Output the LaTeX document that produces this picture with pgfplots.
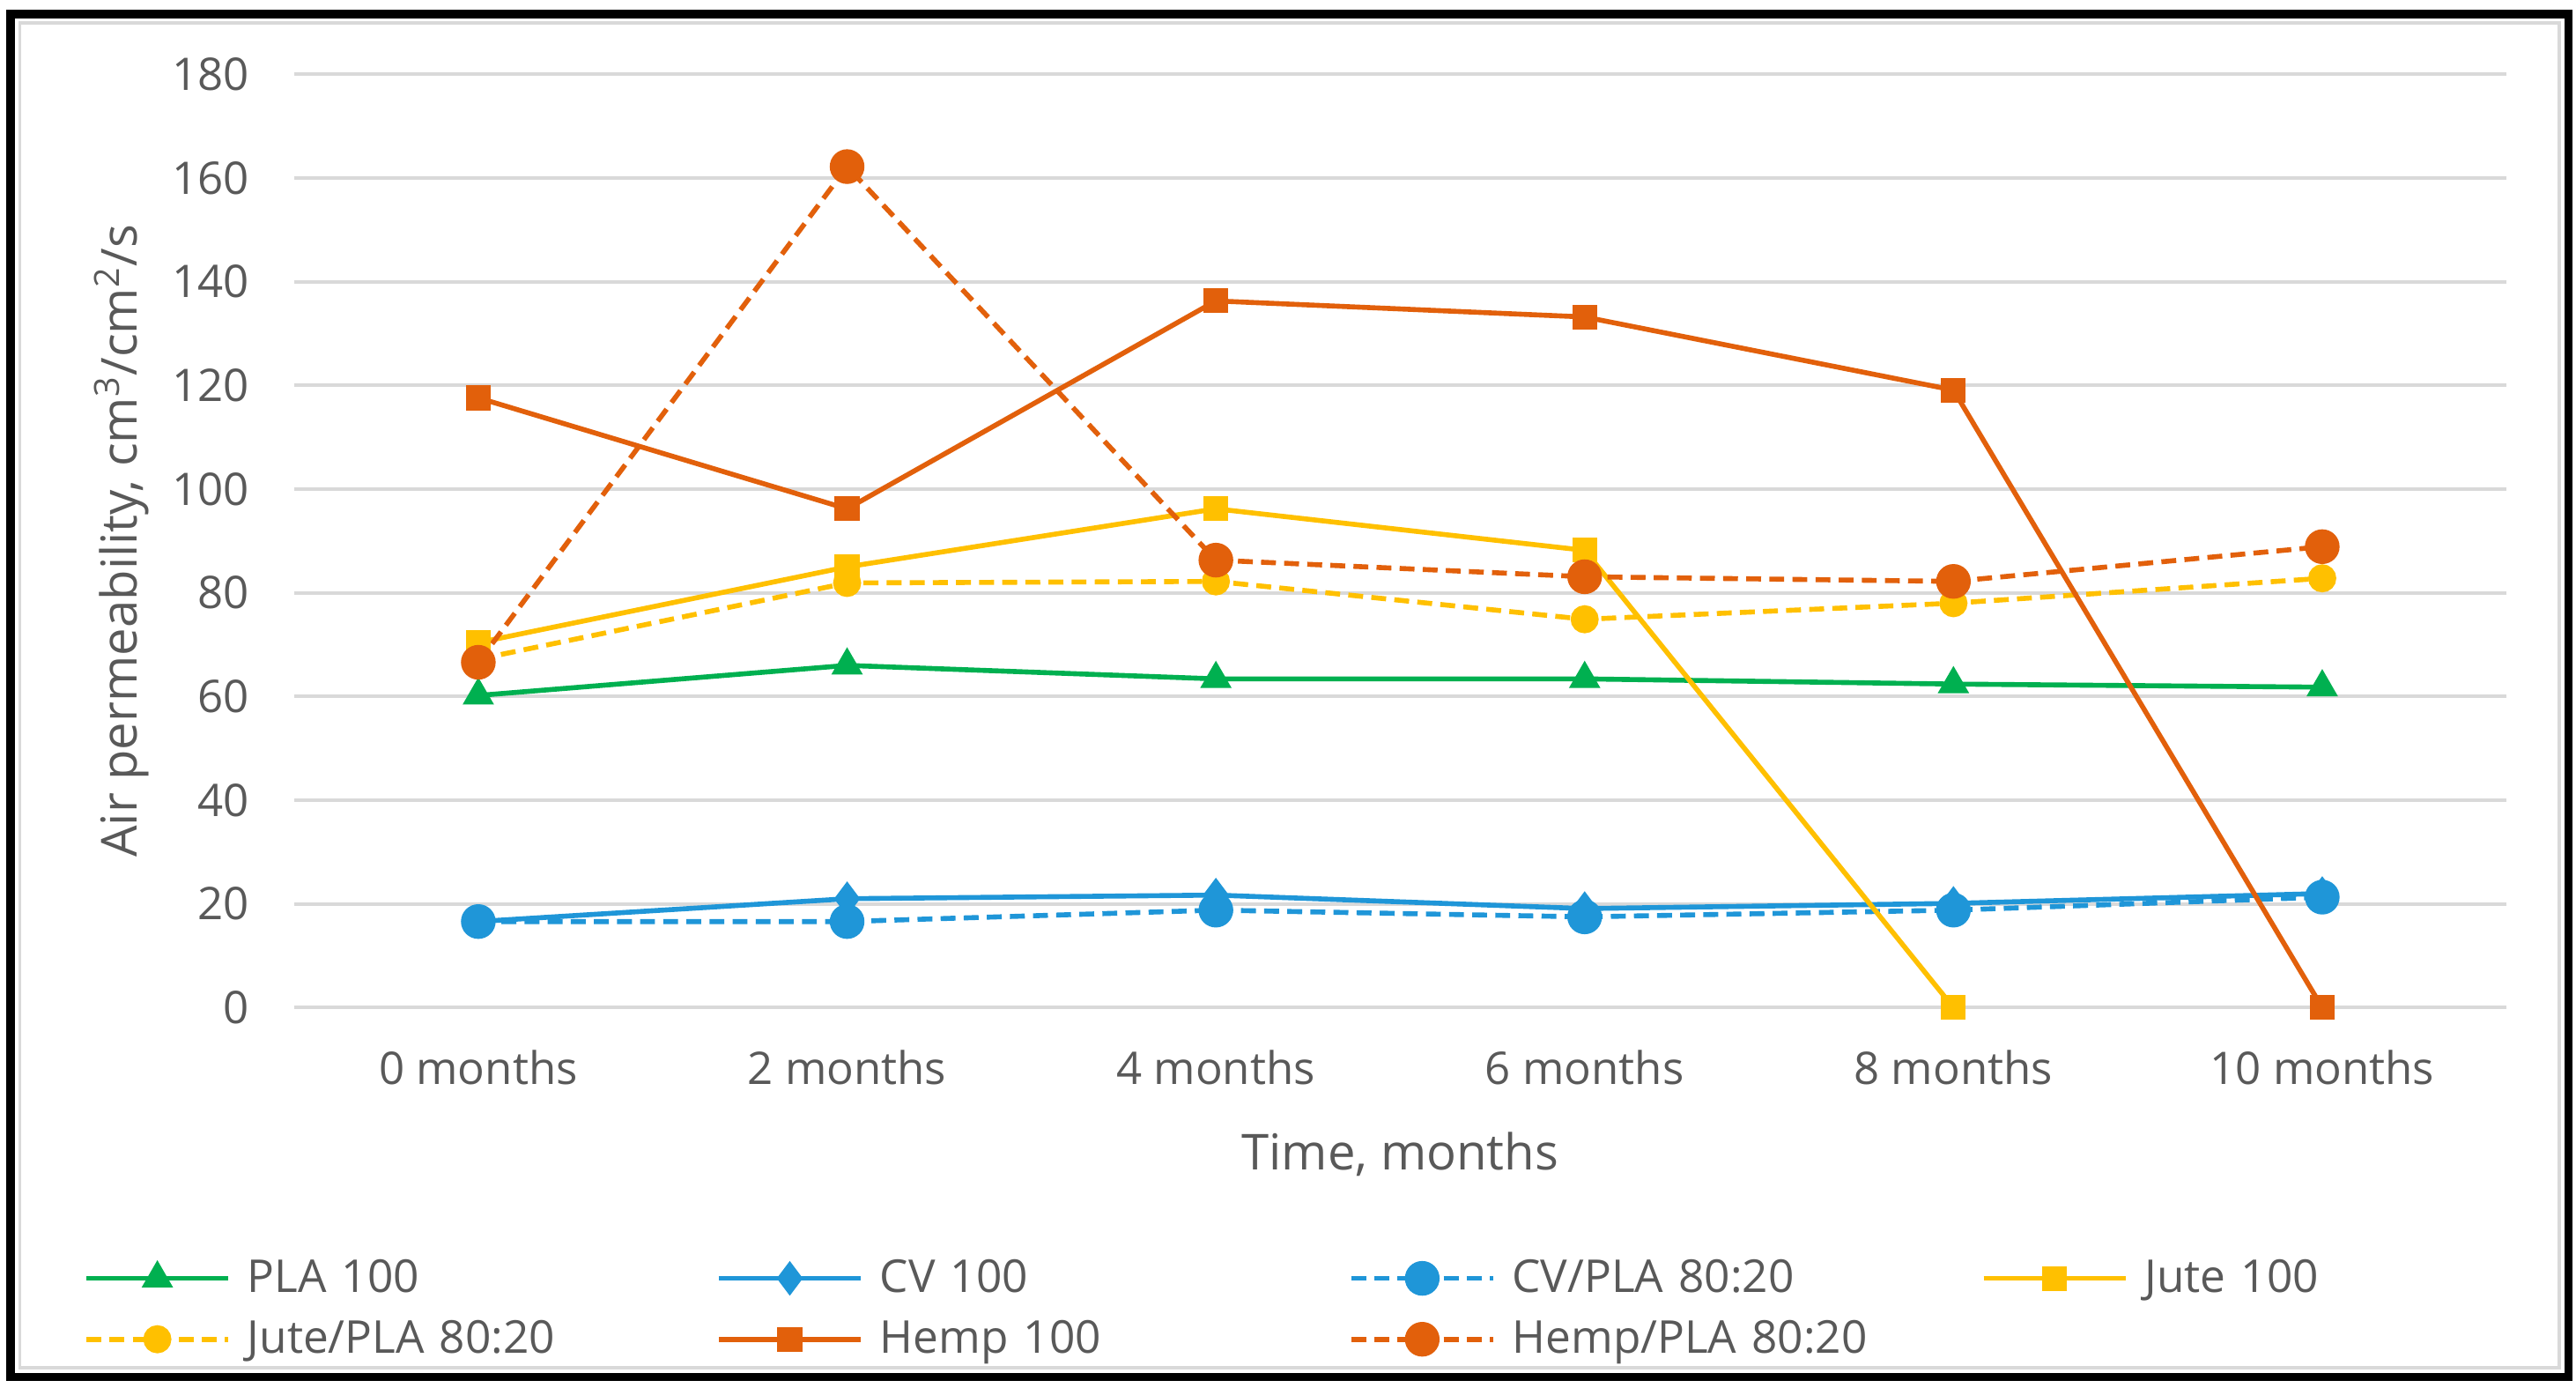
\documentclass[border=0pt]{standalone}
\usepackage{fontspec}
\setmainfont{Open Sans}
\usepackage{pgfplots}
\pgfplotsset{compat=1.18}

\definecolor{cgreen}{HTML}{00B050}
\definecolor{cblue}{HTML}{1F96D8}
\definecolor{cyellow}{HTML}{FFC000}
\definecolor{corange}{HTML}{E2600B}
\definecolor{gridgray}{HTML}{D9D9D9}
\definecolor{txt}{HTML}{595959}

\begin{document}
\begin{tikzpicture}
\path[use as bounding box, fill=white] (-89pt,-115pt) rectangle (691pt,305pt);
\draw[black, line width=2.5pt] (-85.75pt,-111.75pt) rectangle (688.75pt,300.75pt);
\draw[gridgray, line width=1pt] (-83pt,-109pt) rectangle (686pt,298pt);

\begin{axis}[
  width=670pt, height=282.5pt,
  scale only axis,
  xmin=-0.5, xmax=5.5,
  ymin=0, ymax=180,
  xtick={0,1,2,3,4,5},
  xticklabels={0 months,2 months,4 months,6 months,8 months,10 months},
  ytick={0,20,40,60,80,100,120,140,160,180},
  /pgf/number format/assume math mode=true,
  axis line style={draw=none},
  major tick length=0pt,
  ymajorgrids, xmajorgrids=false,
  grid style={draw=gridgray, line width=1pt},
  ticklabel style={font=\fontsize{13.6}{16}\selectfont, text=txt},
  yticklabel style={xshift=-10pt},
  xticklabel style={yshift=-9.5pt},
  xlabel={Time, months},
  ylabel={Air permeability, cm\textsuperscript{3}/cm\textsuperscript{2}/s},
  label style={font=\fontsize{15}{18}\selectfont, text=txt},
  xlabel style={at={(axis description cs:0.5,-0.1575)}, anchor=center},
  ylabel style={at={(axis description cs:-0.078,0.5)}, anchor=center},
  legend columns=4,
  legend style={draw=none, fill=none, font=\fontsize{13.7}{16}\selectfont, text=txt,
    at={(axis description cs:-0.0997,-0.255)}, anchor=north west,
    nodes={text width=140pt, align=left}, row sep=3pt},
  legend cell align=left,
  legend image code/.code={\draw[mark repeat=2,mark phase=2,#1] plot coordinates {(0pt,0pt) (21.5pt,0pt) (43pt,0pt)}; \path (46pt,0pt);},
  every axis plot/.append style={line width=1.5pt},
  clip=false,
]

\addplot[color=cgreen, solid, mark=triangle*, mark size=4pt, mark options={solid}]
coordinates {(0,60.2)(1,66.0)(2,63.4)(3,63.4)(4,62.4)(5,61.8)};
\addlegendentry{PLA 100}

\addplot[color=cblue, solid, mark=diamond*, mark size=4pt, mark options={solid}]
coordinates {(0,16.6)(1,21.0)(2,21.7)(3,19.1)(4,20.1)(5,22.0)};
\addlegendentry{CV 100}

\addplot[color=cblue, dash pattern=on 4.5pt off 2.5pt, mark=*, mark size=4.5pt, mark options={solid}]
coordinates {(0,16.6)(1,16.6)(2,18.8)(3,17.5)(4,18.8)(5,21.3)};
\addlegendentry{CV/PLA 80:20}

\addplot[color=cyellow, solid, mark=square*, mark size=3pt, mark options={solid}]
coordinates {(0,70.4)(1,85.0)(2,96.2)(3,88.2)(4,0)};
\addlegendentry{Jute 100}

\addplot[color=cyellow, dash pattern=on 4.5pt off 2.5pt, mark=*, mark size=3.5pt, mark options={solid}]
coordinates {(0,67.2)(1,81.9)(2,82.2)(3,74.9)(4,78.0)(5,82.8)};
\addlegendentry{Jute/PLA 80:20}

\addplot[color=corange, solid, mark=square*, mark size=3pt, mark options={solid}]
coordinates {(0,117.6)(1,96.2)(2,136.3)(3,133.2)(4,119.1)(5,0)};
\addlegendentry{Hemp 100}

\addplot[color=corange, dash pattern=on 4.5pt off 2.5pt, mark=*, mark size=4.5pt, mark options={solid}]
coordinates {(0,66.6)(1,162.2)(2,86.3)(3,83.1)(4,82.2)(5,88.9)};
\addlegendentry{Hemp/PLA 80:20}

\end{axis}
\end{tikzpicture}
\end{document}
